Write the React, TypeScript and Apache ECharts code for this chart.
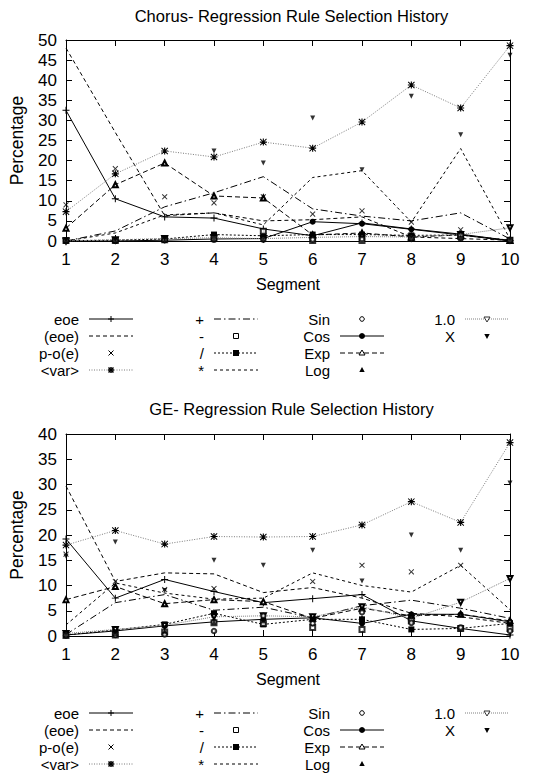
import React, { useEffect, useRef } from "react";
import * as echarts from "echarts";

const FONT = "'Liberation Sans', Arial, Helvetica, sans-serif";

const segments = [1, 2, 3, 4, 5, 6, 7, 8, 9, 10];
const legendNames = ["eoe", "(eoe)", "p-o(e)", "<var>", "+", "-", "/", "*", "Sin", "Cos", "Exp", "Log", "1.0", "X"];

const chorusTitle = "Chorus- Regression Rule Selection History";
const geTitle = "GE- Regression Rule Selection History";
const xAxisName = "Segment";
const yAxisName = "Percentage";
const chorusYMax = 50;
const geYMax = 40;
const yStep = 5;

// Chorus values (percent), one per segment
const chorusEoe = [32.5, 10.5, 6.0, 5.7, 3.0, 1.3, 4.5, 3.0, 1.7, 0.1];
const chorusEoeParen = [48, 27, 6.3, 7.0, 5.0, 5.3, 6.0, 1.0, 0.6, 0.2];
const chorusPoe = [9, 18, 11, 9.5, 11, 6.7, 7.5, 4.7, 2.8, 0.2];
const chorusVar = [7.3, 16.7, 22.4, 20.9, 24.6, 23.1, 29.6, 38.8, 33.1, 48.6];
const chorusPlus = [0, 2.5, 8.5, 12, 16, 8, 6.2, 5, 7, 0.5];
const chorusMinus = [0.1, 0.1, 0.3, 0.6, 2.4, 0.1, 0.1, 0.6, 1.2, 0.2];
const chorusSlash = [0.1, 0.2, 0.5, 1.6, 1.3, 1.6, 1.6, 1.4, 1.5, 0.2];
const chorusStar = [0, 2, 6.5, 7, 4, 15.8, 17.5, 4.7, 23, 0.5];
const chorusSin = [0, 0, 0.2, 0.3, 0.3, 0.4, 0.5, 0.5, 0.6, 0];
const chorusCos = [0, 0, 0.2, 0.5, 0.6, 4.8, 4.3, 2.9, 1.5, 0];
const chorusExp = [3.2, 14, 19.4, 11.2, 10.7, 1.5, 2, 1, 1.5, 0.1];
const chorusLog = [0.1, 0.1, 0.2, 0.3, 0.4, 1.5, 1.8, 0.7, 0.8, 0.1];
const chorusOne = [0, 0.3, 0.6, 0.8, 0.6, 0.9, 1.1, 1.0, 1.6, 3.3];
const chorusX = [0.2, 0.3, 0.5, 22.4, 19.4, 30.6, 17.7, 36, 26.4, 46.2];

// GE values (percent)
const geEoe = [19.2, 7.5, 11.2, 8.8, 6.6, 7.4, 8.2, 3.0, 1.5, 0.2];
const geEoeParen = [29.7, 10.8, 12.5, 12.3, 8.6, 9.6, 7.5, 4.5, 3.8, 2.5];
const gePoe = [16.2, 10.8, 9.2, 9.4, 3.5, 10.8, 14, 12.7, 14, 2.2];
const geVar = [18, 20.9, 18.2, 19.7, 19.6, 19.7, 22, 26.6, 22.5, 38.3];
const gePlus = [0.3, 6.6, 8.2, 5.1, 5.7, 3.6, 6, 7.1, 5.5, 3.5];
const geMinus = [0.1, 0.2, 0.8, 2.6, 2.5, 1.7, 1.3, 3.0, 1.5, 1.5];
const geSlash = [0.2, 1.2, 2.3, 4.5, 2.3, 3.3, 3.3, 1.3, 1.5, 2.5];
const geStar = [2.2, 10.5, 8.5, 7.3, 7.5, 12.5, 10, 8.7, 14, 5.2];
const geSin = [0.1, 0.2, 0.3, 1.0, 4.0, 2.5, 4.7, 2.6, 1.7, 1.0];
const geCos = [0.2, 1.0, 2.0, 2.8, 3.3, 3.6, 2.5, 4.3, 4.3, 2.8];
const geExp = [7.2, 9.8, 6.4, 7.2, 6.8, 3.5, 5.5, 4.0, 4.3, 3.0];
const geLog = [0.2, 0.5, 1.0, 2.7, 3.0, 3.3, 3.7, 4.0, 4.2, 2.5];
const geOne = [0.5, 1.3, 2.1, 3.8, 4.0, 3.8, 5.8, 3.5, 6.7, 11.4];
const geX = [15.8, 18.6, 9, 15, 14, 17, 10.9, 20, 17, 30.3];

const chorusValues = [chorusEoe, chorusEoeParen, chorusPoe, chorusVar, chorusPlus, chorusMinus, chorusSlash, chorusStar, chorusSin, chorusCos, chorusExp, chorusLog, chorusOne, chorusX];
const geValues = [geEoe, geEoeParen, gePoe, geVar, gePlus, geMinus, geSlash, geStar, geSin, geCos, geExp, geLog, geOne, geX];

const PLUS = "path://M4.3,0H5.7V4.3H10V5.7H5.7V10H4.3V5.7H0V4.3H4.3Z";
const STAR = "path://M4.2,0H5.8V4.2H10V5.8H5.8V10H4.2V5.8H0V4.2H4.2Z M1,0L5,4L9,0L10,1L6,5L10,9L9,10L5,6L1,10L0,9L4,5L0,1Z";

type Sty = {
  kind: "line" | "scatter";
  dash?: any;
  lineColor?: string;
  symbol: string;
  size: number;
  rotate?: number;
  mk: string;
};

const styles: Sty[] = [
  { kind: "line", dash: "solid", symbol: PLUS, size: 7, mk: "plus" },
  { kind: "line", dash: [4, 3], symbol: "none", size: 0, mk: "none" },
  { kind: "scatter", symbol: PLUS, size: 7, rotate: 45, mk: "x" },
  { kind: "line", dash: [1, 1.5], lineColor: "#7a7a7a", symbol: STAR, size: 7, mk: "star" },
  { kind: "line", dash: [7, 3, 1.5, 3], symbol: "none", size: 0, mk: "none" },
  { kind: "scatter", symbol: "emptyRect", size: 5, mk: "emptyRect" },
  { kind: "line", dash: [2, 2], symbol: "rect", size: 6, mk: "rect" },
  { kind: "line", dash: [3, 3], symbol: "none", size: 0, mk: "none" },
  { kind: "scatter", symbol: "emptyCircle", size: 4.5, mk: "emptyCircle" },
  { kind: "line", dash: "solid", symbol: "circle", size: 6, mk: "circle" },
  { kind: "line", dash: [5, 3], symbol: "emptyTriangle", size: 5, mk: "emptyTri" },
  { kind: "scatter", symbol: "triangle", size: 5, mk: "tri" },
  { kind: "line", dash: [1, 1], lineColor: "#808080", symbol: "emptyTriangle", size: 5, rotate: 180, mk: "emptyTriDown" },
  { kind: "scatter", symbol: "triangle", size: 5, rotate: 180, mk: "triDown" },
];

function buildSeries(values: number[][], g: number) {
  return legendNames.map((name, i) => {
    const st = styles[i];
    const data = segments.map((s, j) => [s, values[i][j]]);
    const isEmpty = st.symbol.indexOf("empty") === 0;
    const base: any = {
      name,
      xAxisIndex: g * 2,
      yAxisIndex: g * 2,
      data,
      symbol: st.symbol,
      symbolSize: st.size,
      symbolRotate: st.rotate || 0,
      itemStyle: { color: "#000", borderColor: "#000", borderWidth: isEmpty ? 1 : 0 },
      emphasis: { disabled: true },
      silent: true,
    };
    if (st.kind === "scatter") return { ...base, type: "scatter", z: 3 };
    return {
      ...base,
      type: "line",
      showSymbol: st.symbol !== "none",
      lineStyle: { color: st.lineColor || "#000", width: 1, type: st.dash },
      z: 2,
    };
  });
}

function marker(mk: string, cx: number, cy: number): any[] {
  const s = { stroke: "#000", lineWidth: 1 };
  const r = 3;
  const b = { stroke: "#000", lineWidth: 1.5 };
  switch (mk) {
    case "plus":
      return [
        { type: "line", shape: { x1: cx - r, y1: cy, x2: cx + r, y2: cy }, style: s },
        { type: "line", shape: { x1: cx, y1: cy - r, x2: cx, y2: cy + r }, style: s },
      ];
    case "x":
      return [
        { type: "line", shape: { x1: cx - 2.5, y1: cy - 2.5, x2: cx + 2.5, y2: cy + 2.5 }, style: s },
        { type: "line", shape: { x1: cx - 2.5, y1: cy + 2.5, x2: cx + 2.5, y2: cy - 2.5 }, style: s },
      ];
    case "star":
      return [
        { type: "line", shape: { x1: cx - r, y1: cy, x2: cx + r, y2: cy }, style: b },
        { type: "line", shape: { x1: cx, y1: cy - r, x2: cx, y2: cy + r }, style: b },
        { type: "line", shape: { x1: cx - 2.5, y1: cy - 2.5, x2: cx + 2.5, y2: cy + 2.5 }, style: b },
        { type: "line", shape: { x1: cx - 2.5, y1: cy + 2.5, x2: cx + 2.5, y2: cy - 2.5 }, style: b },
      ];
    case "emptyRect":
      return [{ type: "rect", shape: { x: cx - 2.5, y: cy - 2.5, width: 5, height: 5 }, style: { fill: "#fff", stroke: "#000", lineWidth: 1 } }];
    case "rect":
      return [{ type: "rect", shape: { x: cx - 3, y: cy - 3, width: 6, height: 6 }, style: { fill: "#000" } }];
    case "emptyCircle":
      return [{ type: "circle", shape: { cx, cy, r: 2.3 }, style: { fill: "#fff", stroke: "#000", lineWidth: 1 } }];
    case "circle":
      return [{ type: "circle", shape: { cx, cy, r: 3 }, style: { fill: "#000" } }];
    case "emptyTri":
      return [{ type: "polygon", shape: { points: [[cx, cy - 3], [cx + 3, cy + 2], [cx - 3, cy + 2]] }, style: { fill: "#fff", stroke: "#000", lineWidth: 1 } }];
    case "tri":
      return [{ type: "polygon", shape: { points: [[cx, cy - 3], [cx + 2.7, cy + 2], [cx - 2.7, cy + 2]] }, style: { fill: "#000" } }];
    case "emptyTriDown":
      return [{ type: "polygon", shape: { points: [[cx, cy + 3], [cx + 3, cy - 2], [cx - 3, cy - 2]] }, style: { fill: "#fff", stroke: "#333", lineWidth: 1 } }];
    case "triDown":
      return [{ type: "polygon", shape: { points: [[cx, cy + 3], [cx + 2.7, cy - 2], [cx - 2.7, cy - 2]] }, style: { fill: "#000" } }];
    default:
      return [];
  }
}

const colTextRight = [79, 204, 330, 455];
const legendCols = [
  [0, 1, 2, 3],
  [4, 5, 6, 7],
  [8, 9, 10, 11],
  [12, 13],
];

function legendGraphics(rowYs: number[]): any[] {
  const out: any[] = [];
  legendCols.forEach((col, ci) => {
    const tx = colTextRight[ci];
    col.forEach((si, ri) => {
      const y = rowYs[ri];
      const st = styles[si];
      out.push({
        type: "text",
        x: tx,
        y,
        silent: true,
        style: { text: legendNames[si], fill: "#000", fontSize: 15, lineHeight: 15, fontFamily: FONT, align: "right", verticalAlign: "middle" },
      });
      const x1 = tx + 10;
      const x2 = tx + 54;
      if (st.kind === "line") {
        out.push({
          type: "line",
          silent: true,
          shape: { x1, y1: y, x2, y2: y },
          style: {
            stroke: st.lineColor || "#000",
            lineWidth: 1,
            lineDash: Array.isArray(st.dash) ? st.dash : null,
          },
        });
      }
      marker(st.mk, (x1 + x2) / 2, y).forEach((m) => out.push({ ...m, silent: true }));
    });
  });
  return out;
}

function axesFor(g: number, yMax: number) {
  const lineStyle = { color: "#000", width: 1 };
  const xs = [
    {
      type: "value",
      gridIndex: g,
      min: 1,
      max: 10,
      interval: 1,
      position: "bottom",
      name: xAxisName,
      nameLocation: "middle",
      nameGap: 35,
      nameTextStyle: { fontSize: 16, color: "#000", fontFamily: FONT },
      axisLine: { show: true, onZero: false, lineStyle },
      axisTick: { show: true, inside: true, length: 6, lineStyle },
      axisLabel: { fontSize: 17, color: "#000", fontFamily: FONT, margin: 10 },
      splitLine: { show: false },
    },
    {
      type: "value",
      gridIndex: g,
      min: 1,
      max: 10,
      interval: 1,
      position: "top",
      axisLine: { show: true, onZero: false, lineStyle },
      axisTick: { show: true, inside: true, length: 6, lineStyle },
      axisLabel: { show: false },
      splitLine: { show: false },
    },
  ];
  const ys = [
    {
      type: "value",
      gridIndex: g,
      min: 0,
      max: yMax,
      interval: yStep,
      position: "left",
      name: yAxisName,
      nameLocation: "middle",
      nameRotate: 90,
      nameGap: 40,
      nameTextStyle: { fontSize: 17.5, color: "#000", fontFamily: FONT },
      axisLine: { show: true, onZero: false, lineStyle },
      axisTick: { show: true, inside: true, length: 6, lineStyle },
      axisLabel: { fontSize: 17, color: "#000", fontFamily: FONT, margin: 9 },
      splitLine: { show: false },
    },
    {
      type: "value",
      gridIndex: g,
      min: 0,
      max: yMax,
      interval: yStep,
      position: "right",
      axisLine: { show: true, onZero: false, lineStyle },
      axisTick: { show: true, inside: true, length: 6, lineStyle },
      axisLabel: { show: false },
      splitLine: { show: false },
    },
  ];
  return { xs, ys };
}

export default function App() {
  const ref = useRef<HTMLDivElement>(null);
  useEffect(() => {
    if (!ref.current) return;
    const chart = echarts.init(ref.current, null, { renderer: "svg" });
    const a0 = axesFor(0, chorusYMax);
    const a1 = axesFor(1, geYMax);
    const option: any = {
      animation: false,
      backgroundColor: "#fff",
      title: [
        {
          text: chorusTitle,
          left: 286.5,
          top: 2,
          textAlign: "center",
          textStyle: { fontSize: 16.5, fontWeight: "normal", color: "#000", fontFamily: FONT },
        },
        {
          text: geTitle,
          left: 286.5,
          top: 395,
          textAlign: "center",
          textStyle: { fontSize: 16.5, fontWeight: "normal", color: "#000", fontFamily: FONT },
        },
      ],
      grid: [
        { left: 63, top: 40, width: 447, height: 201 },
        { left: 63, top: 434, width: 447, height: 202 },
      ],
      xAxis: [...a0.xs, ...a1.xs],
      yAxis: [...a0.ys, ...a1.ys],
      series: [...buildSeries(chorusValues, 0), ...buildSeries(geValues, 1)],
      graphic: [...legendGraphics([319, 336, 353, 370]), ...legendGraphics([713, 730, 747, 764])],
    };
    chart.setOption(option);
    return () => chart.dispose();
  }, []);
  return (
    <div
      ref={ref}
      style={{ position: "fixed", left: 0, top: 0, width: 546, height: 774, background: "#fff" }}
    />
  );
}
